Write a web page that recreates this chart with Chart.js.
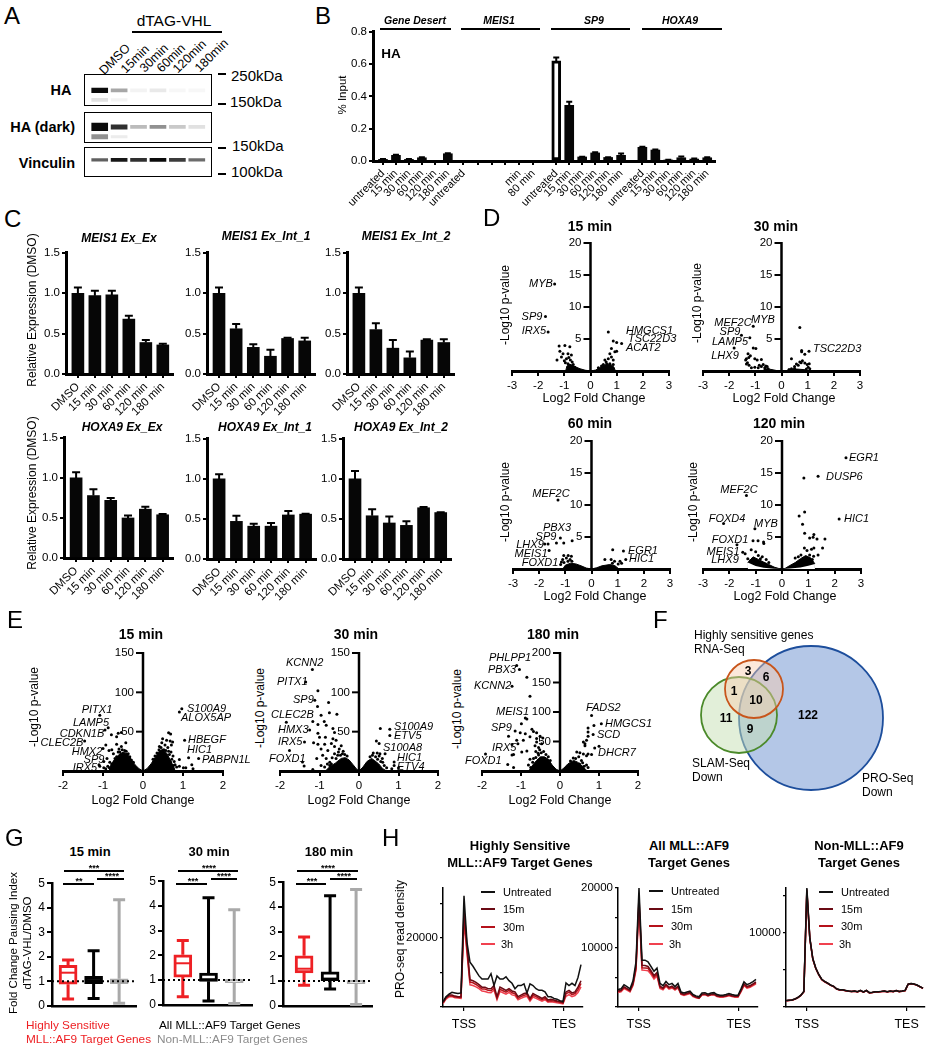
<!DOCTYPE html>
<html>
<head>
<meta charset="utf-8">
<title>Figure</title>
<script src="https://cdn.jsdelivr.net/npm/chart.js@4"></script>
<style>
  html, body { margin: 0; padding: 0; background: #fff; }
  #page { position: relative; width: 928px; height: 1050px; overflow: hidden; background: #fff; }
  canvas { position: absolute; }
</style>
</head>
<body>
<div id="page"></div>
<script>
// ---- data ----
const laneNames = ['DMSO', '15min', '30min', '60min', '120min', '180min'];
const laneIntensityHA = [1, 0.36, 0.05, 0.09, 0.03, 0.03];
const laneThickHA = [0.07, 0.05, 0.05, 0.05, 0.05, 0.05];
const laneIntensityHALow = [0.12, 0.05, 0, 0, 0, 0];
const laneThickHALow = [0.05, 0.04, 0, 0, 0, 0];
const laneIntensityDark = [1, 0.85, 0.28, 0.45, 0.22, 0.12];
const laneThickDark = [0.12, 0.07, 0.05, 0.05, 0.05, 0.05];
const laneIntensityDarkLow = [0.45, 0.08, 0, 0, 0, 0];
const laneThickDarkLow = [0.07, 0.04, 0, 0, 0, 0];
const laneIntensityVinc = [0.65, 0.95, 0.85, 1, 0.8, 0.6];
const laneThickVinc = [0.04, 0.05, 0.05, 0.05, 0.05, 0.04];

const chipLabels = ['untreated', '15 min', '30 min', '60 min', '120 min', '180 min',
  'untreated', '', '', '', 'min', '80 min',
  'untreated', '15 min', '30 min', '60 min', '120 min', '180 min',
  'untreated', '15 min', '30 min', '60 min', '120 min', '180 min'];
const chipSlots = [0, 1, 2, 3, 4, 5, 6.2, 7.3, 8.4, 9.4, 10.5, 11.6,
  13.36, 14.36, 15.36, 16.36, 17.36, 18.36, 20, 21, 22, 23, 24, 25];
const chipValues = [0.01, 0.035, 0.01, 0.02, 0, 0.045, 0, 0, 0, 0, 0, 0,
  0.62, 0.345, 0.025, 0.05, 0.022, 0.035, 0.085, 0.068, 0.005, 0.02, 0.012, 0.02];
const chipErrors = [0.002, 0.003, 0.002, 0.003, 0, 0.003, 0, 0, 0, 0, 0, 0,
  0.022, 0.022, 0.002, 0.004, 0.002, 0.012, 0.003, 0.003, 0.002, 0.008, 0.003, 0.003];

const timeLabels = ['DMSO', '15 min', '30 min', '60 min', '120 min', '180 min'];
const timeSlots = [0, 1, 2, 3, 4, 5];
const meisExEx = [1.0, 0.97, 0.98, 0.68, 0.39, 0.36];
const meisExExErr = [0.07, 0.06, 0.05, 0.04, 0.03, 0.015];
const meisInt1 = [1.0, 0.56, 0.33, 0.22, 0.44, 0.41];
const meisInt1Err = [0.07, 0.06, 0.04, 0.08, 0.01, 0.04];
const meisInt2 = [1.0, 0.55, 0.32, 0.2, 0.42, 0.39];
const meisInt2Err = [0.07, 0.08, 0.1, 0.08, 0.01, 0.04];
const hoxExEx = [1.0, 0.78, 0.72, 0.5, 0.61, 0.54];
const hoxExExErr = [0.07, 0.08, 0.03, 0.03, 0.03, 0.01];
const hoxInt1 = [1.0, 0.47, 0.41, 0.41, 0.55, 0.56];
const hoxInt1Err = [0.06, 0.07, 0.03, 0.04, 0.05, 0.005];
const hoxInt2 = [1.0, 0.54, 0.45, 0.42, 0.64, 0.58];
const hoxInt2Err = [0.1, 0.08, 0.08, 0.05, 0.01, 0.005];

// volcano dots, [log2fc, -log10p]
const rna15Dots = [[-1.37,13.6],[-1.72,8.5],[-1.62,6.1],[-1.2,3.9],[-0.98,4],[-0.79,3.8],[-1.17,3.1],[-1.05,2.7],[-0.86,2.7],[-0.73,2.5],
  [-1.28,1.7],[-1.11,2.2],[-0.92,1.9],[-0.77,1.7],[-0.96,1.3],[-0.86,1.15],[-0.79,0.9],[-0.66,1],[-0.6,0.6],[-1,1.6],[-0.83,2.1],[-0.7,1.4],
  [0.68,6.1],[0.87,4.7],[1,4.45],[1.19,4.3],[0.8,3.5],[0.93,3],[1,3.1],[0.74,2.7],[0.8,2.2],[0.68,1.9],[0.55,1.7],[0.87,1.7],[0.6,1.4],[0.74,1.15],[0.49,1],[0.87,1],[0.8,0.6],[0.3,0.5],[0.42,0.8],[0.62,1.1]];
const rna15Left = [[-0.95,0],[-0.9,0.8],[-0.75,1],[-0.6,0.7],[-0.4,0.35],[-0.2,0.12],[0,0]];
const rna15Right = [[0,0],[0.2,0.15],[0.35,0.5],[0.5,0.9],[0.75,1.1],[0.9,0.6],[0.95,0]];
const rna30Dots = [[-1.08,7],[-1.53,5.6],[-1.21,5.2],[-1.81,3.6],[-1.08,3.6],[-0.98,3.5],[-1.28,2.7],[-1.19,2.4],[-1.34,1.9],[-1.02,1.9],[-1.37,1.7],[-0.93,1.7],[-0.77,1.8],
  [-1.34,1.1],[-1.24,0.9],[-1.15,0.5],[-1.02,0.6],[-0.89,0.5],[-0.77,0.7],[-0.64,0.5],[-0.51,0.35],[-1.3,1.3],[-1.25,2.1],[-0.7,1],[-0.6,0.8],[-0.55,0.7],[-0.85,0.9],
  [0.7,6.8],[0.77,3.2],[0.77,3],[0.89,2.6],[1.05,3.1],[0.38,1.9],[0.8,1.6],[0.7,1.4],[0.89,1.25],[1.06,1.15],[0.64,0.9],[0.5,0.4],[1.02,0.6],[1.08,0.35],[0.38,0.35],[0.29,0.25],[0.5,0.7],[0.57,1.1],[0.98,1],[0.75,1.3],[0.95,0.3]];
const rna30Left = [[-0.75,0],[-0.6,0.35],[-0.4,0.25],[-0.2,0.08],[0,0]];
const rna30Right = [[0,0],[0.2,0.08],[0.4,0.3],[0.6,0.3],[0.9,0.2],[1,0]];
const rna60Dots = [[-1.28,10.8],[-1.19,4.85],[-1.34,4.06],[-1.06,4.06],[-0.74,4.4],[-1.79,3.9],[-1.66,3.9],[-1.62,2.9],[-1.06,2.1],[-0.89,2.1],[-0.77,2],[-0.96,1.7],[-0.82,1.5],[-1.15,1.1],[-1.1,1.5],[-0.9,1.2],[-1.05,1],[-0.75,1.2],[-1.18,0.7],
  [0.81,3],[1.22,2.8],[1.31,1.5],[0.51,1.5],[0.75,1.5],[0.88,1.2],[1.09,1.2],[1.02,0.8],[1.15,0.9],[0.8,0.9]];
const rna60Left = [[-1.1,0],[-1,0.6],[-0.8,0.9],[-0.6,0.8],[-0.4,0.5],[-0.2,0.15],[0,0]];
const rna60Right = [[0,0],[0.2,0.2],[0.4,0.5],[0.7,0.7],[0.9,0.5],[1.05,0]];
const rna120Dots = [[2.43,17.4],[1.37,14.5],[0.83,14.2],[-1.35,11.5],[-2.22,7.1],[2.17,7.8],[0.86,8.9],[0.65,8.3],[0.78,7],[0.86,5.6],[1.21,5.4],[1.05,4.85],[1.18,4.95],[1.33,4.7],[1.63,4.7],[1.54,3.3],[1.21,3.3],[1.37,2.2],[1.12,3.1],[0.85,3.3],[0.95,2.9],
  [-1.03,6.3],[-1.1,4.4],[-0.91,4.4],[-0.7,4.2],[-0.69,4],[-1.71,3.8],[-1.49,2.6],[-1.4,2.4],[-1.17,3],[-1,2.7],[-0.9,2.1],[-0.75,1.9],[-0.6,1.5],[-0.82,1.6],[-0.5,1],[0.5,1.7],[0.62,1.9],[0.72,2.2],[1.2,2],[1.05,2.2],[-1.3,1.6],[-1.2,1.3],[1.15,1.5]];
const rna120Left = [[-1.3,1],[-1.1,1.9],[-0.9,1.5],[-0.7,1.1],[-0.5,0.7],[-0.3,0.3],[-0.12,0.08],[0,0]];
const rna120Right = [[0,0],[0.12,0.1],[0.3,0.55],[0.5,1],[0.7,1.6],[0.9,2.1],[1.1,1.7],[1.25,0.8]];
const rna120FloorL = [[-1.3,1],[-1,0.45],[-0.7,0.2],[-0.3,0.05],[0,0]];
const rna120FloorR = [[0,0],[0.3,0.08],[0.7,0.25],[1,0.5],[1.25,0.8]];

const slam15Dots = [[-1.08,71],[-0.87,55],[-0.95,52],[-0.79,46],[-0.66,43.5],[-0.54,49],[-0.62,48],[-1.46,38],[-0.93,33],[-1,28.5],[-0.85,26],[-0.43,36],[-0.54,31],[-0.66,34],[-0.74,22],[-0.62,24],[-0.9,16],[-1.08,6],[-0.98,4],[-0.93,3],[-1.1,8],[-0.37,22],[-0.7,16],[-0.83,11],[-0.78,27],[-0.98,12],[-0.6,28],
  [-0.88,6],[-0.84,4],[-0.78,9],[-0.72,12],[-0.66,18],[-0.58,24],[-0.52,27],[-0.46,26],[-0.42,25],[-0.33,18],[-0.29,14],[-0.24,11],
  [0.97,79],[0.91,75],[1.04,39],[0.64,48.6],[0.69,47],[0.49,41],[0.59,39],[0.68,38],[0.74,37],[0.55,33],[0.41,31],[0.71,33],[0.91,14.5],[1.14,17],[1.39,16],[1.22,8],[0.91,6],[1.01,4],[1.07,4],[1.25,3],[0.76,7],[0.69,11],[0.59,16],[0.47,36],[0.62,30],[0.52,27],[0.7,24],[0.75,19],[0.66,21],[0.78,12],
  [0.25,15],[0.3,19],[0.35,23],[0.4,27],[0.45,30],[0.57,26],[0.64,25],[0.72,15],[0.8,8],[0.84,5]];
const slam15Left = [[-0.85,0],[-0.8,8],[-0.7,15],[-0.6,21],[-0.5,24],[-0.4,22],[-0.3,15],[-0.2,8],[-0.1,3],[0,0]];
const slam15Right = [[0,0],[0.1,3],[0.2,9],[0.3,17],[0.4,25],[0.5,28],[0.6,22],[0.7,12],[0.78,4],[0.8,0]];
const slam30Dots = [[-1.18,129],[-1.35,113],[-1.04,102],[-1.12,90],[-1.05,82],[-1.84,62],[-1.17,63],[-1.04,59],[-1.25,52],[-1.04,48],[-1.38,37],[-1.15,36],[-1.04,34],[-1.76,26],[-1.43,11.5],[-1.39,6.4],[-1.17,2],[-1.07,16],
  [-0.77,87],[-0.96,71],[-0.75,74],[-0.56,72],[-0.88,63],[-0.83,58],[-0.66,54],[-0.62,49],[-1,43],[-0.85,43],[-0.66,41],[-0.58,39],[-0.87,34],[-0.7,35],[-0.96,28],[-0.79,26],[-0.62,31],[-0.5,28],[-0.92,20],[-0.83,16],[-0.74,11],[-0.62,22],[-0.54,20],[-0.96,7],[-0.87,5],[-0.66,5],[-0.74,7],[-0.45,32],[-0.52,24],[-0.4,25],
  [-0.68,17],[-0.58,16],[-0.47,20],[-0.42,22],[-0.36,21],[-0.3,19],[-0.8,9],[-0.7,9],
  [0.54,54],[0.78,53],[0.78,45],[0.44,38],[0.51,35],[0.66,22],[0.46,23],[0.36,23],[0.53,22],[0.59,16],[0.51,19],[0.89,11.5],[0.89,7],[0.83,3],[0.7,4],[1,4],[0.6,11],[0.47,15],[0.28,18],[0.34,20],[0.42,18],[0.55,12],[0.64,7]];
const slam30Left = [[-0.85,0],[-0.75,5],[-0.6,10],[-0.45,16],[-0.35,17],[-0.25,14],[-0.15,8],[-0.07,3],[0,0]];
const slam30Right = [[0,0],[0.1,5],[0.2,12],[0.32,16],[0.4,13],[0.5,9],[0.6,3],[0.7,0]];
const slam180Dots = [[-1.11,179],[-1.04,172],[-0.85,159],[-1.23,143.5],[-0.77,126.5],[-0.89,90],[-0.85,88],[-0.99,80],[-1.15,68],[-1.02,65],[-0.89,63],[-0.72,70.6],[-0.68,67],[-0.6,65],[-0.77,58],[-1.32,59],[-1.11,52],[-0.94,52],[-0.51,59],[-0.44,56],[-0.6,55],[-1.23,45],[-1.08,46],[-1.19,28],[-1.23,27],[-1.91,29],[-0.98,32],[-0.85,34],[-1.34,11],[-1.19,6],[-0.81,10],[-0.77,20],[-0.68,21],[-0.6,49],[-0.64,43],[-0.55,40],[-0.47,46],[-0.52,36],[-0.62,33],
  [-0.56,30],[-0.48,31],[-0.42,33],[-0.36,28],[-0.7,15],[-0.62,23],[-0.55,27],[-0.75,6],[-0.3,24],[-0.25,18],
  [0.81,94],[0.87,77],[1.06,80],[0.72,73],[0.72,66],[0.72,59],[0.85,62],[1,42],[0.89,39],[0.68,52],[0.6,49],[0.64,46],[0.64,43],[0.43,32],[0.51,31],[0.6,29],[0.68,26],[0.81,28],[0.34,22],[0.55,18],[0.68,10],[0.72,6],[0.58,14],[0.48,24],[0.72,29],[0.27,17],[0.4,21],[0.5,12],[0.62,8]];
const slam180Left = [[-0.8,0],[-0.7,10],[-0.6,18],[-0.5,24],[-0.4,24],[-0.3,20],[-0.2,10],[-0.1,3],[0,0]];
const slam180Right = [[0,0],[0.1,5],[0.2,12],[0.35,18],[0.45,15],[0.55,10],[0.65,3],[0.7,0]];

// Venn: scale units are the panel's own, r is the bubble radius
const vennNames = ['RNA-Seq', 'SLAM-Seq', 'PRO-Seq'];
const vennX = [754, 739, 811];
const vennY = [689, 715, 718];
const vennR = [29, 38, 72];

// pausing index box plots: red, black, gray
const pause15Min = [0.28, 0.3, 0.1];
const pause15Q1 = [0.88, 0.9, 0.9];
const pause15Med = [1.35, 1.05, 1];
const pause15Q3 = [1.65, 1.2, 1.1];
const pause15Max = [1.87, 2.25, 4.32];
const pause30Min = [0.33, 0.15, 0.05];
const pause30Q1 = [1.12, 0.95, 0.9];
const pause30Med = [1.68, 1.03, 1];
const pause30Q3 = [2.02, 1.28, 1.02];
const pause30Max = [2.6, 4.33, 3.85];
const pause180Min = [0.83, 0.68, 0.05];
const pause180Q1 = [1.33, 1.02, 0.9];
const pause180Med = [1.5, 1.1, 1];
const pause180Q3 = [2.02, 1.37, 1.02];
const pause180Max = [2.78, 4.45, 4.7];

// PRO-seq metagene profiles
const bins = [0,1,2,3,4,5,6,7,8,9,10,11,12,13,14,15,16,17,18,19,20,21,22,23,24,25,26,27,28,29,30,31,32,33,34,35,36,37,38,39,40,41,42,43,44,45,46];
const highUntreated = [1574,2963,3704,4260,4074,3889,4074,32130,18700,12960,11760,10370,8980,8060,8060,8060,9630,6200,8980,8060,8060,8700,7600,6850,5280,6200,6200,6670,4074,6670,6200,5280,4815,4815,4350,2963,2963,2500,2220,1850,1574,6945,6200,6850,6200,8520,12220];
const high15m = [1300,2780,3430,3430,3150,2960,2960,27970,17780,7870,7590,7130,6480,5740,5740,5280,5280,6200,2960,5740,5280,4815,5280,4630,4350,2960,3430,3890,4070,2500,3890,3430,2960,2500,2960,2040,2220,2040,1760,1570,1300,4350,4815,4070,4350,5740,7590];
const high30m = [1200,2600,3200,3200,2900,2800,2750,26000,16500,7200,7000,6500,5900,5200,5200,4800,4700,5500,2500,5100,4700,4300,4800,4100,3800,2500,3000,3400,3600,2100,3400,3000,2500,2100,2500,1700,1800,1700,1500,1350,1100,3800,4300,3600,3900,5000,6800];
const high3h = [1000,2300,2900,3000,2700,2600,2500,24500,15500,6400,6200,5800,5300,4600,4500,4200,4100,4900,2100,4500,4100,3700,4200,3500,3300,2100,2500,2900,3100,1700,2900,2500,2100,1700,2100,1400,1500,1400,1200,1100,900,3100,3600,3000,3300,4200,5800];
const allUntreated = [2940,3050,3745,3420,3050,4390,7600,20000,7860,7860,7600,6800,5990,6530,3960,3580,4280,3745,3960,3420,3960,2510,2350,2510,2675,2090,1870,1710,2350,2410,2140,2350,2410,2090,1980,1980,2090,2250,2090,1980,1980,3050,4230,3745,3960,4280,4650];
const all15m = [2700,2800,3400,3100,2800,4000,6900,18500,7000,6950,6800,6100,5300,5800,3500,3200,3800,3300,3500,3100,3500,2300,2150,2300,2450,1900,1700,1550,2150,2200,1950,2150,2200,1900,1800,1800,1900,2050,1900,1800,1800,2800,3900,3450,3600,3900,4200];
const all30m = [2600,2700,3250,3000,2700,3800,6500,17800,6600,6550,6500,5800,5000,5500,3300,3050,3650,3150,3350,3000,3350,2200,2050,2200,2350,1850,1650,1500,2100,2150,1900,2100,2150,1850,1750,1750,1850,2000,1850,1750,1750,2700,3750,3300,3450,3750,4050];
const all3h = [2450,2550,3100,2850,2550,3600,6200,17000,6200,6150,6100,5500,4700,5200,3100,2900,3500,3000,3200,2850,3200,2100,1950,2100,2250,1750,1550,1450,2000,2050,1850,2000,2050,1750,1650,1650,1750,1900,1750,1650,1650,2550,3600,3150,3300,3600,3900];
const nonUntreated = [862,905,948,1078,1293,1595,2112,16120,9350,6550,5260,4400,3750,3450,3230,2970,2800,2457,2330,2330,2240,2155,2112,2155,2069,2240,2026,2240,1940,1983,2069,2069,2112,2155,2069,2155,2112,2240,2112,2155,2240,3103,3190,3103,2974,2758,2543];
const non15m = [850,900,940,1070,1280,1580,2090,15900,9300,6500,5230,4380,3730,3430,3210,2950,2790,2440,2320,2320,2230,2150,2100,2150,2060,2230,2020,2230,1930,1975,2060,2060,2100,2150,2060,2150,2100,2230,2100,2150,2230,3080,3170,3090,2960,2740,2530];
const non30m = [840,890,930,1060,1270,1570,2070,15700,9250,6480,5210,4360,3710,3410,3190,2930,2770,2420,2300,2300,2210,2130,2090,2130,2040,2210,2000,2210,1910,1960,2040,2040,2080,2130,2040,2130,2080,2210,2080,2130,2210,3060,3150,3070,2940,2720,2510];
const non3h = [830,880,920,1050,1260,1560,2050,15500,9200,6450,5200,4350,3700,3400,3180,2920,2760,2410,2290,2290,2200,2120,2080,2120,2030,2200,1990,2200,1900,1950,2030,2030,2070,2120,2030,2120,2070,2200,2070,2120,2200,3050,3140,3060,2930,2710,2500];
const profileNames = ['Untreated', '15m', '30m', '3h'];
const profileColors = ['#111111', '#6b0a14', '#b5121b', '#f0414f'];

// ---- helpers ----
const FONT = "'Liberation Sans', Arial, sans-serif";
Chart.defaults.font.family = FONT;
Chart.defaults.color = '#000';
Chart.defaults.animation = false;
const page = document.getElementById('page');

function label(text, x, y, o = {}) {
  const d = document.createElement('div');
  d.textContent = text;
  const a = o.anchor || 'c';
  const tx = a === 'c' ? '-50%' : a === 'r' ? '-100%' : '0';
  d.style.cssText = `position:absolute;left:${x}px;top:${y}px;white-space:nowrap;line-height:1;color:${o.color || '#000'};` +
    `font:${o.italic ? 'italic ' : ''}${o.bold ? 'bold ' : ''}${o.size || 12}px ${FONT};` +
    `transform-origin:${a === 'c' ? 'center' : a === 'r' ? 'right center' : 'left center'};` +
    `transform:translate(${tx},-50%) rotate(${o.rot || 0}deg);`;
  page.appendChild(d);
}
function rule(x1, x2, y, w = 2, color = '#000') {
  const d = document.createElement('div');
  d.style.cssText = `position:absolute;left:${x1}px;top:${y - w / 2}px;width:${x2 - x1}px;height:${w}px;background:${color};`;
  page.appendChild(d);
}
function mount(left, top, w, h) {
  const c = document.createElement('canvas');
  c.width = w; c.height = h;
  c.style.left = left + 'px'; c.style.top = top + 'px';
  c.style.width = w + 'px'; c.style.height = h + 'px';
  page.appendChild(c);
  return c;
}
function baseOptions(pad) {
  return {
    responsive: false, devicePixelRatio: 1, animation: false,
    layout: { autoPadding: false, padding: pad },
    plugins: { legend: { display: false }, tooltip: { enabled: false }, title: { display: false } }
  };
}
function axis(lineW, tickLen, size, tickW) {
  return {
    offset: false,
    border: { color: '#000', width: lineW },
    grid: { offset: false, drawOnChartArea: false, color: '#000', tickColor: '#000', tickLength: tickLen, lineWidth: tickW, tickWidth: tickW },
    ticks: { color: '#000', font: { size: size }, padding: 2, autoSkip: false, maxRotation: 0, minRotation: 0 }
  };
}

// bars with error caps drawn through the scales
function errorCaps(slots, values, errs, capW) {
  return {
    id: 'errorCaps',
    afterDatasetsDraw(chart) {
      const { ctx, scales: { x, y } } = chart;
      ctx.save();
      ctx.strokeStyle = '#000'; ctx.lineWidth = 2;
      slots.forEach((s, i) => {
        if (!errs[i]) return;
        const px = x.getPixelForValue(s);
        const a = y.getPixelForValue(values[i]);
        const b = y.getPixelForValue(values[i] + errs[i]);
        ctx.beginPath();
        ctx.moveTo(px, a); ctx.lineTo(px, b);
        ctx.moveTo(px - capW / 2, b); ctx.lineTo(px + capW / 2, b);
        ctx.stroke();
      });
      ctx.restore();
    }
  };
}
function barPanel(x0, x1, yTop, yBot, cfg) {
  const m = { l: 40, r: 8, t: 6, b: 56 };
  const canvas = mount(x0 - m.l, yTop - m.t, x1 - x0 + m.l + m.r, yBot - yTop + m.t + m.b);
  const xAxis = axis(3, 4, cfg.xFont || 11.5, 2);
  Object.assign(xAxis, {
    type: 'linear', min: cfg.xMin, max: cfg.xMax,
    afterBuildTicks: s => { s.ticks = cfg.slots.map(v => ({ value: v })); },
    afterFit: s => { s.height = m.b; }
  });
  xAxis.ticks.minRotation = 45; xAxis.ticks.maxRotation = 45;
  xAxis.ticks.callback = (v, i) => cfg.labels[i];
  const yAxis = axis(3, 4, 11.5, 2);
  Object.assign(yAxis, { min: 0, max: cfg.yMax, afterFit: s => { s.width = m.l; } });
  yAxis.ticks.stepSize = cfg.yStep;
  yAxis.ticks.callback = v => v.toFixed(1);
  new Chart(canvas, {
    type: 'bar',
    data: {
      datasets: [{
        data: cfg.slots.map((s, i) => ({ x: s, y: cfg.values[i] })),
        backgroundColor: cfg.fills || '#060606',
        borderColor: '#000',
        borderWidth: cfg.borderW || 0,
        borderSkipped: false,
        barThickness: cfg.barW
      }]
    },
    options: Object.assign(baseOptions({ top: m.t, right: m.r, left: 0, bottom: 0 }), { scales: { x: xAxis, y: yAxis } }),
    plugins: [errorCaps(cfg.slots, cfg.values, cfg.errs, cfg.capW)]
  });
}

// volcano: the y scale is hidden and its spine, ticks and labels are drawn at x = 0
function spineAtZero(yStep, yMax) {
  return {
    id: 'spineAtZero',
    afterDatasetsDraw(chart) {
      const { ctx, scales: { x, y } } = chart;
      const px = x.getPixelForValue(0);
      ctx.save();
      ctx.strokeStyle = '#000'; ctx.fillStyle = '#000';
      ctx.lineWidth = 2.5;
      ctx.beginPath();
      ctx.moveTo(px, y.getPixelForValue(yMax) - 1); ctx.lineTo(px, y.getPixelForValue(0));
      ctx.stroke();
      ctx.lineWidth = 2;
      ctx.font = `11.5px ${FONT}`;
      ctx.textAlign = 'right'; ctx.textBaseline = 'middle';
      for (let v = yStep; v <= yMax; v += yStep) {
        const py = y.getPixelForValue(v);
        ctx.beginPath();
        ctx.moveTo(px, py); ctx.lineTo(px - 7, py);
        ctx.stroke();
        ctx.fillText(String(v), px - 9, py);
      }
      ctx.restore();
    }
  };
}
function volcano(x0, x1, yTop, yBot, cfg) {
  const m = { l: 12, r: 12, t: 8, b: 26 };
  const canvas = mount(x0 - m.l, yTop - m.t, x1 - x0 + m.l + m.r, yBot - yTop + m.t + m.b);
  const xAxis = axis(3, 5, 11.5, 2);
  Object.assign(xAxis, { type: 'linear', min: -cfg.xLim, max: cfg.xLim, afterFit: s => { s.height = m.b; } });
  xAxis.ticks.stepSize = 1;
  xAxis.ticks.padding = 3;
  const toXY = p => ({ x: p[0], y: p[1] });
  const sets = [{ data: cfg.dots.map(toXY), pointRadius: 1.5, pointBackgroundColor: '#000', pointBorderWidth: 0, showLine: false }];
  (cfg.floors || []).forEach(c => sets.push({
    data: c.map(toXY), showLine: true, fill: 'origin', backgroundColor: '#fff', borderWidth: 0, pointRadius: 0, tension: 0
  }));
  (cfg.cones || []).forEach(c => sets.push({
    data: c.map(toXY), showLine: true, fill: 'origin', backgroundColor: '#000', borderColor: '#000', borderWidth: 1, pointRadius: 0, tension: 0
  }));
  new Chart(canvas, {
    type: 'scatter',
    data: { datasets: sets },
    options: Object.assign(baseOptions({ top: m.t, right: m.r, left: m.l, bottom: 0 }), {
      scales: { x: xAxis, y: { type: 'linear', display: false, min: 0, max: cfg.yMax } }
    }),
    plugins: [spineAtZero(cfg.yStep, cfg.yMax)]
  });
}

// box plot: floating bars for the box, whiskers and median through the scales
function boxGlyphs(slots, cfg) {
  return {
    id: 'boxGlyphs',
    afterDatasetsDraw(chart) {
      const { ctx, scales: { x, y } } = chart;
      ctx.save();
      slots.forEach((s, i) => {
        const px = x.getPixelForValue(s);
        ctx.strokeStyle = cfg.colors[i]; ctx.lineWidth = 3;
        ctx.beginPath();
        ctx.moveTo(px, y.getPixelForValue(cfg.q1[i])); ctx.lineTo(px, y.getPixelForValue(cfg.min[i]));
        ctx.moveTo(px, y.getPixelForValue(cfg.q3[i])); ctx.lineTo(px, y.getPixelForValue(cfg.max[i]));
        [cfg.min[i], cfg.max[i]].forEach(v => {
          ctx.moveTo(px - 6, y.getPixelForValue(v)); ctx.lineTo(px + 6, y.getPixelForValue(v));
        });
        ctx.stroke();
        ctx.lineWidth = 2;
        ctx.beginPath();
        ctx.moveTo(px - 8, y.getPixelForValue(cfg.med[i])); ctx.lineTo(px + 8, y.getPixelForValue(cfg.med[i]));
        ctx.stroke();
      });
      ctx.strokeStyle = '#000'; ctx.lineWidth = 2; ctx.setLineDash([2, 3]);
      ctx.beginPath();
      ctx.moveTo(x.left, y.getPixelForValue(1)); ctx.lineTo(x.right, y.getPixelForValue(1));
      ctx.stroke();
      ctx.restore();
    }
  };
}
function boxPanel(x0, x1, yTop, yBot, cfg) {
  const m = { l: 22, r: 6, t: 6, b: 6 };
  const canvas = mount(x0 - m.l, yTop - m.t, x1 - x0 + m.l + m.r, yBot - yTop + m.t + m.b);
  const slots = [0, 1, 2];
  const xAxis = axis(2.5, 0, 11, 0);
  Object.assign(xAxis, { type: 'linear', min: cfg.xMin, max: cfg.xMax, afterFit: s => { s.height = m.b; } });
  xAxis.ticks.display = false;
  const yAxis = axis(2.5, 5, 12, 2);
  Object.assign(yAxis, { min: 0, max: 5, afterFit: s => { s.width = m.l; } });
  yAxis.ticks.stepSize = 1;
  cfg.colors = ['#ee2024', '#000000', '#a9a9a9'];
  new Chart(canvas, {
    type: 'bar',
    data: {
      datasets: [{
        data: slots.map(i => ({ x: i, y: [cfg.q1[i], cfg.q3[i]] })),
        backgroundColor: '#fff',
        borderColor: cfg.colors,
        borderWidth: 3,
        borderSkipped: false,
        barThickness: 18
      }]
    },
    options: Object.assign(baseOptions({ top: m.t, right: m.r, left: 0, bottom: 0 }), { scales: { x: xAxis, y: yAxis } }),
    plugins: [boxGlyphs(slots, cfg)]
  });
}

function profile(x0, x1, yTop, yBot, cfg) {
  const m = { l: 44, r: 6, t: 4, b: 26 };
  const canvas = mount(x0 - m.l, yTop - m.t, x1 - x0 + m.l + m.r, yBot - yTop + m.t + m.b);
  const xAxis = axis(1.5, 4, 12.5, 1.2);
  Object.assign(xAxis, {
    type: 'linear', min: 0, max: 46.67,
    afterBuildTicks: s => { s.ticks = cfg.xTicks.map(v => ({ value: v })); },
    afterFit: s => { s.height = m.b; }
  });
  xAxis.ticks.callback = (v, i) => ['TSS', 'TES'][i];
  xAxis.ticks.padding = 6;
  const yAxis = axis(1.5, 3, 11.5, 1.2);
  Object.assign(yAxis, {
    min: 0, max: cfg.yMax,
    afterBuildTicks: s => { s.ticks = cfg.yTicks.map(v => ({ value: v })); },
    afterFit: s => { s.width = m.l; }
  });
  yAxis.ticks.callback = v => (cfg.yLabelled.includes(v) ? v : '');
  new Chart(canvas, {
    type: 'line',
    data: {
      datasets: cfg.series.map((vals, k) => ({
        label: profileNames[k],
        data: bins.map((b, i) => ({ x: b, y: vals[i] })),
        borderColor: profileColors[k], borderWidth: 1.5, pointRadius: 0, tension: 0, fill: false
      }))
    },
    options: Object.assign(baseOptions({ top: m.t, right: m.r, left: 0, bottom: 0 }), { scales: { x: xAxis, y: yAxis } })
  });
  profileNames.forEach((n, k) => {
    const ly = cfg.legendY[k];
    rule(cfg.legendX, cfg.legendX + 14, ly, 1.6, profileColors[k]);
    label(n, cfg.legendX + (k === 3 ? 20 : 22), ly, { anchor: 'l', size: 11 });
  });
}

// blot bands: floating bars on a hidden 0..1 scale, one dataset per band row
function blot(x, yTop, w, h, bands) {
  const box = document.createElement('div');
  box.style.cssText = `position:absolute;left:${x}px;top:${yTop}px;width:${w - 2}px;height:${h - 2}px;border:1.5px solid #000;`;
  page.appendChild(box);
  const c = mount(x, yTop, w, h);
  c.style.filter = 'blur(0.7px)';
  new Chart(c, {
    type: 'bar',
    data: {
      labels: laneNames,
      datasets: bands.map(b => ({
        data: b.thick.map(t => (t ? [b.at - t, b.at + t] : null)),
        backgroundColor: b.alpha.map(a => `rgba(10,10,10,${a})`),
        borderWidth: 0, barThickness: 16, grouped: false
      }))
    },
    options: Object.assign(baseOptions({ top: 0, right: 5.5, left: 6, bottom: 0 }), {
      scales: { x: { display: false }, y: { display: false, min: 0, max: 1 } }
    })
  });
}

// ---- panel A ----
label('A', 4, 16, { anchor: 'l', size: 24 });
label('dTAG-VHL', 174, 21, { size: 15.5 });
rule(132, 222, 32, 2);
[[128, 42], [147, 43], [166, 42], [183, 42], [204, 38], [226, 37]].forEach((p, i) =>
  label(laneNames[i], p[0], p[1] + 4, { anchor: 'r', rot: -45, size: 12.5 }));
blot(84, 74, 128, 32, [{ at: 0.49, thick: laneThickHA, alpha: laneIntensityHA }, { at: 0.19, thick: laneThickHALow, alpha: laneIntensityHALow }]);
blot(84, 112, 128, 31, [{ at: 0.52, thick: laneThickDark, alpha: laneIntensityDark }, { at: 0.2, thick: laneThickDarkLow, alpha: laneIntensityDarkLow }]);
blot(84, 147, 128, 30, [{ at: 0.57, thick: laneThickVinc, alpha: laneIntensityVinc }]);
label('HA', 61, 90, { bold: true, size: 14.5 });
label('HA (dark)', 75, 127, { anchor: 'r', bold: true, size: 14.5 });
label('Vinculin', 75, 163, { anchor: 'r', bold: true, size: 14.5 });
[[74, '250kDa', 231, 75], [104, '150kDa', 230, 101], [148, '150kDa', 232, 145], [174, '100kDa', 231, 171]].forEach(t => {
  rule(218, 226, t[0], 1.5);
  label(t[1], t[2], t[3], { anchor: 'l', size: 15 });
});

// ---- panel B ----
label('B', 315, 16, { anchor: 'l', size: 24 });
barPanel(373, 715, 29, 161, {
  slots: chipSlots, labels: chipLabels, values: chipValues, errs: chipErrors,
  xMin: -0.77, xMax: 25.6, yMax: 0.8, yStep: 0.2, barW: 9, capW: 6, xFont: 11,
  fills: chipValues.map((v, i) => (i === 12 ? '#fff' : '#060606')),
  borderW: chipValues.map((v, i) => (i === 12 ? 3 : 0))
});
[['Gene Desert', 380, 451, 415], ['MEIS1', 461, 540, 499], ['SP9', 551, 630, 594], ['HOXA9', 642, 722, 680]].forEach(g => {
  rule(g[1], g[2], 29, 2);
  label(g[0], g[3], 20, { italic: true, bold: true, size: 10.5 });
});
label('HA', 391, 53, { bold: true, size: 13.5 });
label('% Input', 342, 95, { rot: -90, size: 11.5 });

// ---- panel C ----
label('C', 4, 219, { anchor: 'l', size: 24 });
const cCommon = { slots: timeSlots, labels: timeLabels, xMin: -0.7, xMax: 5.6, yMax: 1.5, yStep: 0.5, barW: 12, capW: 8 };
barPanel(66, 173, 250, 374, Object.assign({ values: meisExEx, errs: meisExExErr }, cCommon));
barPanel(207, 315, 250, 374, Object.assign({ values: meisInt1, errs: meisInt1Err }, cCommon));
barPanel(347, 454, 250, 374, Object.assign({ values: meisInt2, errs: meisInt2Err }, cCommon));
barPanel(64, 173, 435, 558, Object.assign({ values: hoxExEx, errs: hoxExExErr }, cCommon));
barPanel(207, 316, 436, 559, Object.assign({ values: hoxInt1, errs: hoxInt1Err }, cCommon));
barPanel(343, 451, 436, 559, Object.assign({ values: hoxInt2, errs: hoxInt2Err }, cCommon));
[['MEIS1 Ex_Ex', 119, 238], ['MEIS1 Ex_Int_1', 266, 236], ['MEIS1 Ex_Int_2', 406, 236],
 ['HOXA9 Ex_Ex', 122, 427], ['HOXA9 Ex_Int_1', 265, 427], ['HOXA9 Ex_Int_2', 401, 427]].forEach(t =>
  label(t[0], t[1], t[2], { italic: true, bold: true, size: 12 }));
label('Relative Expression (DMSO)', 32, 310, { rot: -90, size: 12 });
label('Relative Expression (DMSO)', 32, 493, { rot: -90, size: 12 });

// ---- panel D ----
label('D', 483, 218, { anchor: 'l', size: 24 });
const dCommon = { xLim: 3, yMax: 20, yStep: 5 };
volcano(512, 669, 243, 371, Object.assign({ dots: rna15Dots, cones: [rna15Left, rna15Right] }, dCommon));
volcano(703, 860, 243, 371, Object.assign({ dots: rna30Dots, cones: [rna30Left, rna30Right] }, dCommon));
volcano(513, 670, 441, 569, Object.assign({ dots: rna60Dots, cones: [rna60Left, rna60Right] }, dCommon));
volcano(703, 861, 441, 569, Object.assign({ dots: rna120Dots, cones: [rna120Left, rna120Right], floors: [rna120FloorL, rna120FloorR] }, dCommon));
[['15 min', 590, 226], ['30 min', 776, 226], ['60 min', 590, 423], ['120 min', 779, 423]].forEach(t =>
  label(t[0], t[1], t[2], { bold: true, size: 14 }));
[[594, 398], [784, 398], [595, 596], [785, 596]].forEach(p => label('Log2 Fold Change', p[0], p[1], { size: 12.5 }));
[[505, 305], [697, 303], [505, 502], [693, 502]].forEach(p => label('-Log10 p-value', p[0], p[1], { rot: -90, size: 12 }));
const geneC = [['MYB',541,283],['SP9',532,316],['IRX5',534,330],
  ['MEF2C',733,322],['MYB',763,319],['SP9',730,331],['LAMP5',730,341],['LHX9',725,355],
  ['MEF2C',551,493],['PBX3',557,527],['SP9',546,536],['LHX9',530,544],['MEIS1',531,553],['FOXD1',540,562],
  ['MEF2C',739,489],['FOXD4',727,518],['MYB',766,523],['FOXD1',730,539],['MEIS1',723,551],['LHX9',725,559]];
const geneL = [['HMGCS1',626,330],['TSC22D3',628,338],['ACAT2',626,347],['TSC22D3',813,348],
  ['EGR1',628,550],['HIC1',629,558],['EGR1',849,457],['DUSP6',826,476],['HIC1',844,518]];
geneC.forEach(t => label(t[0], t[1], t[2], { italic: true, size: 11 }));
geneL.forEach(t => label(t[0], t[1], t[2], { italic: true, size: 11, anchor: 'l' }));

// ---- panel E ----
label('E', 7, 620, { anchor: 'l', size: 24 });
volcano(63, 223, 653, 771, { xLim: 2, yMax: 150, yStep: 50, dots: slam15Dots, cones: [slam15Left, slam15Right] });
volcano(280, 438, 653, 771, { xLim: 2, yMax: 150, yStep: 50, dots: slam30Dots, cones: [slam30Left, slam30Right] });
volcano(482, 638, 653, 771, { xLim: 2, yMax: 200, yStep: 50, dots: slam180Dots, cones: [slam180Left, slam180Right] });
[['15 min', 141, 634], ['30 min', 356, 634], ['180 min', 553, 634]].forEach(t => label(t[0], t[1], t[2], { bold: true, size: 14 }));
[[143, 800], [359, 800], [560, 800]].forEach(p => label('Log2 Fold Change', p[0], p[1], { size: 12.5 }));
[[34, 707], [260, 708], [457, 709]].forEach(p => label('-Log10 p-value', p[0], p[1], { rot: -90, size: 12 }));
const geneE = [['PITX1',97,709,'c'],['LAMP5',91,722,'c'],['CDKN1B',82,733,'c'],['CLEC2B',62,742,'c'],['HMX2',87,751,'c'],['SP9',94,759,'c'],['IRX5',85,767,'c'],
  ['S100A9',187,708,'l'],['ALOX5AP',181,717,'l'],['HBEGF',188,739,'l'],['HIC1',187,749,'l'],['PABPN1L',202,759,'l'],
  ['KCNN2',286,662,'l'],['PITX1',277,681,'l'],['SP9',293,699,'l'],['CLEC2B',271,714,'l'],['HMX3',278,729,'l'],['IRX5',278,741,'l'],['FOXD1',269,758,'l'],
  ['S100A9',394,726,'l'],['ETV5',394,735,'l'],['S100A8',383,747,'l'],['HIC1',397,757,'l'],['ETV4',397,766,'l'],
  ['PHLPP1',489,657,'l'],['PBX3',488,669,'l'],['KCNN2',474,685,'l'],['MEIS1',496,711,'l'],['SP9',491,727,'l'],['IRX5',492,747,'l'],['FOXD1',465,760,'l'],
  ['FADS2',586,707,'l'],['HMGCS1',605,723,'l'],['SCD',597,734,'l'],['DHCR7',598,752,'l']];
geneE.forEach(t => label(t[0], t[1], t[2], { italic: true, size: 11, anchor: t[3] }));

// ---- panel F ----
label('F', 653, 620, { anchor: 'l', size: 24 });
const vennFill = ['rgba(248,203,173,0.45)', 'rgba(197,224,180,0.5)', 'rgba(180,199,231,1)'];
const vennEdge = ['#c8551b', '#4b8a2a', '#1d4e9c'];
new Chart(mount(660, 620, 268, 190), {
  type: 'bubble',
  data: {
    datasets: vennNames.map((n, i) => ({
      label: n,
      data: [{ x: vennX[i], y: vennY[i], r: vennR[i] }],
      backgroundColor: vennFill[i], borderColor: vennEdge[i], borderWidth: 1.8
    }))
  },
  options: Object.assign(baseOptions(0), {
    scales: { x: { display: false, min: 660, max: 928 }, y: { display: false, min: 620, max: 810, reverse: true } }
  })
});
label('Highly sensitive genes', 694, 635, { anchor: 'l', size: 12 });
label('RNA-Seq', 694, 649, { anchor: 'l', size: 12 });
label('SLAM-Seq', 692, 763, { anchor: 'l', size: 12 });
label('Down', 692, 777, { anchor: 'l', size: 12 });
label('PRO-Seq', 862, 778, { anchor: 'l', size: 12 });
label('Down', 862, 792, { anchor: 'l', size: 12 });
[['3',748,671],['6',766,677],['1',734,691],['10',756,700],['11',726,718],['9',750,729],['122',808,715]].forEach(t =>
  label(t[0], t[1], t[2], { bold: true, size: 12 }));

// ---- panel G ----
label('G', 5, 838, { anchor: 'l', size: 24 });
boxPanel(52, 137, 880, 1009, { xMin: -0.63, xMax: 2.7, min: pause15Min, q1: pause15Q1, med: pause15Med, q3: pause15Q3, max: pause15Max });
boxPanel(163, 253, 878, 1008, { xMin: -0.77, xMax: 2.73, min: pause30Min, q1: pause30Q1, med: pause30Med, q3: pause30Q3, max: pause30Max });
boxPanel(283, 373, 879, 1009, { xMin: -0.81, xMax: 2.65, min: pause180Min, q1: pause180Q1, med: pause180Med, q3: pause180Q3, max: pause180Max });
[['15 min', 90], ['30 min', 209], ['180 min', 329]].forEach(t => label(t[0], t[1], 851, { bold: true, size: 13 }));
[[64,124,94,'***', 63,94,79,'**', 97,124,112,'****'],
 [178,238,209,'****', 176,207,193,'***', 211,237,224,'****'],
 [297,358,328,'****', 296,326,312,'***', 330,357,344,'****']].forEach(b => {
  rule(b[0], b[1], 871, 1.5); label(b[3], b[2], 868, { bold: true, size: 9 });
  rule(b[4], b[5], 884, 1.5); label(b[7], b[6], 881, { bold: true, size: 9 });
  rule(b[8], b[9], 879, 1.5); label(b[11], b[10], 876, { bold: true, size: 9 });
});
label('Fold Change Pausing Index', 13, 943, { rot: -90, size: 11.5 });
label('dTAG-VHL/DMSO', 27, 943, { rot: -90, size: 11.5 });
label('Highly Sensitive', 26, 1025, { anchor: 'l', size: 11.8, color: '#ee2024' });
label('MLL::AF9 Target Genes', 26, 1039, { anchor: 'l', size: 11.8, color: '#ee2024' });
label('All MLL::AF9 Target Genes', 159, 1025, { anchor: 'l', size: 11.8 });
label('Non-MLL::AF9 Target Genes', 157, 1039, { anchor: 'l', size: 11.8, color: '#8c8c8c' });

// ---- panel H ----
label('H', 382, 838, { anchor: 'l', size: 24 });
profile(443, 583, 883, 1007, {
  series: [highUntreated, high15m, high30m, high3h], yMax: 34400,
  yTicks: [0, 10000, 20000, 30000], yLabelled: [20000], xTicks: [7, 40.3],
  legendX: 481, legendY: [892, 909, 927, 944]
});
profile(618, 758, 883, 1007, {
  series: [allUntreated, all15m, all30m, all3h], yMax: 20000,
  yTicks: [0, 5000, 10000, 15000, 20000], yLabelled: [10000, 20000], xTicks: [6.9, 40.2],
  legendX: 649, legendY: [891, 909, 926, 944]
});
profile(786, 925, 883, 1007, {
  series: [nonUntreated, non15m, non30m, non3h], yMax: 16100,
  yTicks: [0, 5000, 10000, 15000], yLabelled: [10000], xTicks: [7, 40.5],
  legendX: 819, legendY: [892, 909, 926, 944]
});
[['Highly Sensitive', 520, 845], ['MLL::AF9 Target Genes', 520, 862], ['All MLL::AF9', 689, 845], ['Target Genes', 689, 862],
 ['Non-MLL::AF9', 859, 845], ['Target Genes', 859, 862]].forEach(t => label(t[0], t[1], t[2], { bold: true, size: 13 }));
label('PRO-seq read density', 400, 939, { rot: -90, size: 12 });
</script>
</body>
</html>
